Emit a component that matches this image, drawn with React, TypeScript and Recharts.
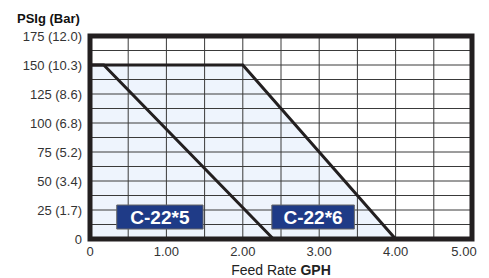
import {ComposedChart, Line, Area, XAxis, YAxis, ReferenceArea, ReferenceLine} from 'recharts'
import {JSX} from 'react'

// feed rate (GPH) vs pressure (PSIg)
const c226Rate = [0, 2.0, 4.0]
const c226Psi = [150, 150, 0]
const c225Rate = [0, 0.18, 2.4]
const c225Psi = [150, 150, 0]

const xTicks = [0, 0.5, 1, 1.5, 2, 2.5, 3, 3.5, 4, 4.5, 5]
const xLabels = ['0', '1.00', '2.00', '3.00', '4.00', '5.00']
const yTicks = [0, 12.5, 25, 37.5, 50, 62.5, 75, 87.5, 100, 112.5, 125, 137.5, 150, 162.5, 175]
const yLabels = ['0', '25 (1.7)', '50 (3.4)', '75 (5.2)', '100 (6.8)', '125 (8.6)', '150 (10.3)', '175 (12.0)']

const c226 = c226Rate.map((x, i) => ({x, y: c226Psi[i]}))
const c225 = c225Rate.map((x, i) => ({x, y: c225Psi[i]}))

const FONT = '"Liberation Sans", Arial, sans-serif'
const INK = '#231f20'
const GRID = '#3a3a3a'

const XTick = (props: any): JSX.Element => {
	const {x, y, payload} = props
	const v = payload.value
	if (v % 1 !== 0) return <g />
	const dx = v === 5 ? -8 : 0
	return (
		<text x={x + dx} y={y} dy='0.71em' textAnchor='middle' fontSize={13} fill='#333' fontFamily={FONT}>
			{xLabels[v]}
		</text>
	)
}

const YTick = (props: any): JSX.Element => {
	const {x, y, payload} = props
	const v = payload.value
	if (v % 25 !== 0) return <g />
	return (
		<text x={x} y={y} dy='0.36em' textAnchor='end' fontSize={13} fill='#333' fontFamily={FONT}>
			{yLabels[v / 25]}
		</text>
	)
}

const BoxLabel = (props: any): JSX.Element => {
	const {viewBox, value} = props
	return (
		<text
			x={viewBox.x + viewBox.width / 2}
			y={viewBox.y + viewBox.height / 2}
			dy='0.36em'
			textAnchor='middle'
			fontSize={19}
			fontWeight='bold'
			fill='#fff'
			fontFamily={FONT}
		>
			{value}
		</text>
	)
}

const App = (): JSX.Element => {
	return (
		<div style={{position: 'absolute', left: 0, top: 0}}>
			<ComposedChart width={489} height={278} margin={{top: 36, right: 17, bottom: 0, left: 0}}>
				<XAxis
					type='number'
					dataKey='x'
					domain={[0, 5]}
					ticks={xTicks}
					axisLine={false}
					tickLine={false}
					height={39}
					tick={<XTick />}
					label={{
						content: (p: any) => (
							<text x={p.viewBox.x + p.viewBox.width / 2} y={p.viewBox.y + 36} textAnchor='middle' fontSize={14} fill='#222' fontFamily={FONT}>
								Feed Rate <tspan fontWeight='bold'>GPH</tspan>
							</text>
						),
					}}
				/>
				<YAxis
					type='number'
					domain={[0, 175]}
					ticks={yTicks}
					axisLine={false}
					tickLine={false}
					width={90}
					tick={<YTick />}
					label={{
						content: (p: any) => (
							<text x={p.viewBox.x + 17} y={p.viewBox.y - 13} fontSize={13} fontWeight='bold' fill='#111' fontFamily={FONT}>
								PSIg (Bar)
							</text>
						),
					}}
				/>
				<Area data={c226} dataKey='y' type='linear' stroke='none' fill='#eef4fd' fillOpacity={1} isAnimationActive={false} />
				{xTicks.map((t) => (
					<ReferenceLine key={`vx-${t}`} x={t} stroke={GRID} strokeWidth={1} />
				))}
				{yTicks.map((t) => (
					<ReferenceLine key={`hy-${t}`} y={t} stroke={GRID} strokeWidth={1} />
				))}
				<Line data={c226} dataKey='y' type='linear' stroke={INK} strokeWidth={3} dot={false} isAnimationActive={false} />
				<Line data={c225} dataKey='y' type='linear' stroke={INK} strokeWidth={3} dot={false} isAnimationActive={false} />
				<ReferenceArea zIndex={1500} x1={0.35} x2={1.48} y1={8.6} y2={29.3} fill='#1f3b87' fillOpacity={1} stroke='#666' strokeWidth={1} label={<BoxLabel value='C-22*5' />} />
				<ReferenceArea zIndex={1500} x1={2.38} x2={3.46} y1={8.6} y2={29.3} fill='#1f3b87' fillOpacity={1} stroke='#666' strokeWidth={1} label={<BoxLabel value='C-22*6' />} />
				<ReferenceArea zIndex={1600} x1={0} x2={5} y1={0} y2={175} fill='none' stroke={INK} strokeWidth={5} ifOverflow='visible' />
			</ComposedChart>
		</div>
	)
}

export default App
